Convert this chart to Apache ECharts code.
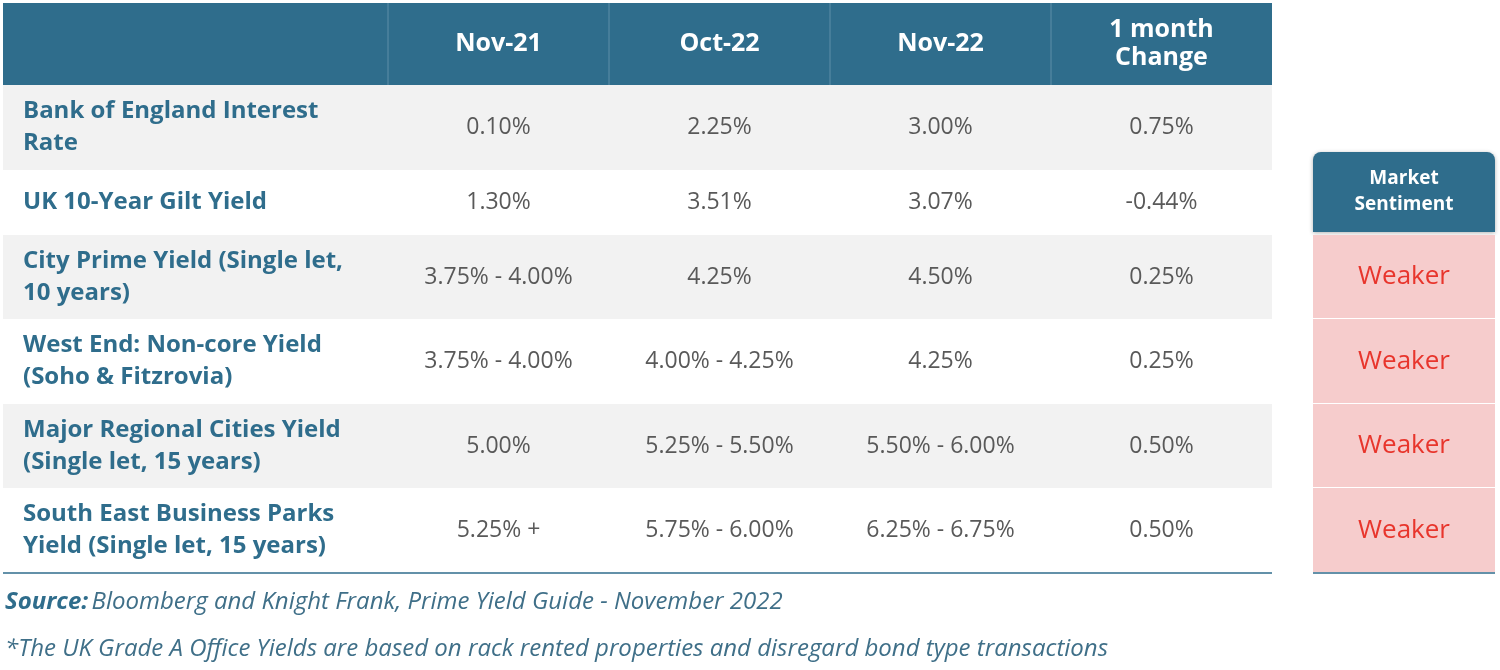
<!DOCTYPE html>
<html><head><meta charset="utf-8">
<script src="https://cdn.jsdelivr.net/npm/echarts@6/dist/echarts.min.js"></script>
<style>html,body{margin:0;padding:0;background:#fff}#c{width:1500px;height:670px}</style>
</head><body><div id="c"></div>
<script>
const headers = ['', 'Nov-21', 'Oct-22', 'Nov-22', '1 month\nChange'];
const rowLabels = ['Bank of England Interest\nRate', 'UK 10-Year Gilt Yield', 'City Prime Yield (Single let,\n10 years)', 'West End: Non-core Yield\n(Soho & Fitzrovia)', 'Major Regional Cities Yield\n(Single let, 15 years)', 'South East Business Parks\nYield (Single let, 15 years)'];
const nov21 = ['0.10%', '1.30%', '3.75% - 4.00%', '3.75% - 4.00%', '5.00%', '5.25% +'];
const oct22 = ['2.25%', '3.51%', '4.25%', '4.00% - 4.25%', '5.25% - 5.50%', '5.75% - 6.00%'];
const nov22 = ['3.00%', '3.07%', '4.50%', '4.25%', '5.50% - 6.00%', '6.25% - 6.75%'];
const change = ['0.75%', '-0.44%', '0.25%', '0.25%', '0.50%', '0.50%'];
const sentimentHeader = 'Market\nSentiment';
const sentiment = ['', '', 'Weaker', 'Weaker', 'Weaker', 'Weaker'];
const sourceText = 'Bloomberg and Knight Frank, Prime Yield Guide - November 2022';
const footnote = '*The UK Grade A Office Yields are based on rack rented properties and disregard bond type transactions';

// layout (pixel-space axis)
const colEdges = [3, 388, 609, 830, 1051, 1272];
const rowEdges = [3, 85, 170, 235, 319, 404, 488, 573];
const sentEdges = [1313, 1495];
const sentHeadTop = 152, sentHeadBottom = 232;

const cols = [rowLabels, nov21, oct22, nov22, change];
const cells = [];
headers.forEach((h, c) => cells.push([c, 0, h]));
for (let r = 0; r < rowLabels.length; r++) for (let c = 0; c < 5; c++) cells.push([c, r + 1, cols[c][r]]);
const sentCells = [[0, -1, sentimentHeader]];
sentiment.forEach((s, r) => { if (r >= 2) sentCells.push([0, r + 1, s]); });

const FONT = '"Open Sans", Lato, sans-serif';
const blue = '#2f6d8c';

function cellItem(params, api) {
  const c = api.value(0), r = api.value(1), txt = api.value(2);
  const p0 = api.coord([colEdges[c], rowEdges[r]]), p1 = api.coord([colEdges[c + 1], rowEdges[r + 1]]);
  const w = p1[0] - p0[0], h = p1[1] - p0[1];
  const head = r === 0;
  const fill = head ? blue : (r % 2 === 1 ? '#f2f2f2' : '#ffffff');
  const children = [{ type: 'rect', shape: { x: p0[0], y: p0[1], width: w, height: h }, style: { fill } }];
  if (head && c > 0) children.push({ type: 'line', shape: { x1: p0[0], y1: p0[1], x2: p0[0], y2: p1[1] }, style: { stroke: '#5f8fa8', lineWidth: 1 } });
  const left = c === 0;
  children.push({ type: 'text', x: left ? p0[0] + 20 : p0[0] + w / 2, y: p0[1] + h / 2,
    style: { text: txt, align: left ? 'left' : 'center', verticalAlign: 'middle', lineHeight: head ? 28 : 32,
      font: (head || left ? 'bold ' : '') + (head ? '25px ' : left ? '24px ' : '23px ') + FONT,
      fill: head ? '#ffffff' : (left ? blue : '#595959') } });
  if (r === rowEdges.length - 2) children.push({ type: 'line', shape: { x1: p0[0], y1: p1[1], x2: p1[0], y2: p1[1] }, style: { stroke: blue, lineWidth: 1.5 } });
  return { type: 'group', children };
}
function sentItem(params, api) {
  const r = api.value(1), txt = api.value(2);
  const head = r < 0;
  const y0 = head ? sentHeadTop : rowEdges[r], y1 = head ? sentHeadBottom : rowEdges[r + 1];
  const p0 = api.coord([sentEdges[0], y0]), p1 = api.coord([sentEdges[1], y1]);
  const w = p1[0] - p0[0], h = p1[1] - p0[1];
  const children = [{ type: 'rect', shape: { x: p0[0], y: p0[1], width: w, height: head ? h : h - 1, r: head ? [8, 8, 0, 0] : 0 },
    style: head ? { fill: blue, shadowBlur: 4, shadowColor: 'rgba(0,0,0,0.3)', shadowOffsetY: 1 } : { fill: '#f6cccc' } }];
  children.push({ type: 'text', x: p0[0] + w / 2, y: p0[1] + h / 2,
    style: { text: txt, align: 'center', verticalAlign: 'middle', lineHeight: 26,
      font: head ? 'bold 19px ' + FONT : '26px ' + FONT, fill: head ? '#fff' : '#e8352c' } });
  if (r === rowEdges.length - 2) children.push({ type: 'line', shape: { x1: p0[0], y1: p1[1], x2: p1[0], y2: p1[1] }, style: { stroke: blue, lineWidth: 1.5 } });
  return { type: 'group', children };
}

const chart = echarts.init(document.getElementById('c'));
chart.setOption({
  animation: false,
  grid: { left: 0, right: 0, top: 0, bottom: 0 },
  xAxis: { type: 'value', min: 0, max: 1500, show: false },
  yAxis: { type: 'value', min: 0, max: 670, inverse: true, show: false },
  graphic: [
    { type: 'text', left: 5, top: 590, style: { rich: { b: { font: 'italic bold 24px ' + FONT, fill: blue }, n: { font: 'italic 24px ' + FONT, fill: '#3f6f88' } }, text: '{b|Source:} {n|' + sourceText + '}' } },
    { type: 'text', left: 5, top: 637, style: { text: footnote, font: 'italic 24px ' + FONT, fill: '#3f6f88' } }
  ],
  series: [
    { type: 'custom', renderItem: cellItem, data: cells, encode: { x: 0, y: 1 } },
    { type: 'custom', renderItem: sentItem, data: sentCells, encode: { x: 0, y: 1 } }
  ]
});
</script></body></html>
